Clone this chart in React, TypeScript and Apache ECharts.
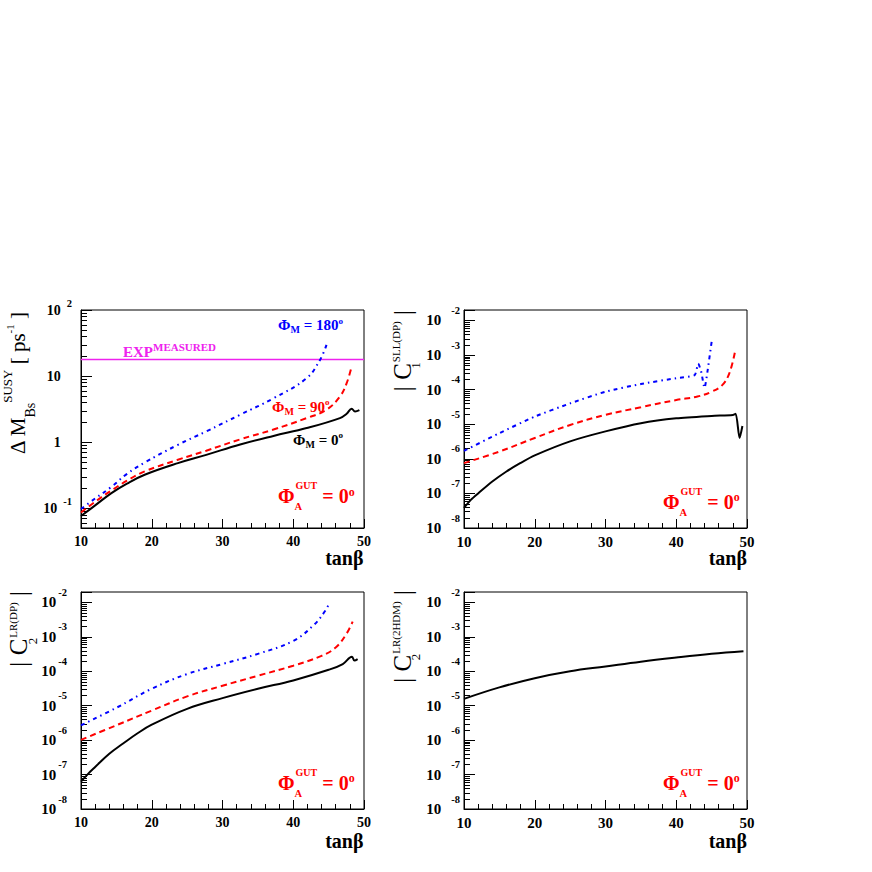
import React, { useEffect, useRef } from 'react';
import * as echarts from 'echarts';

const FONT = '"Liberation Serif", "Times New Roman", serif';
const RED = '#ff0000';
const BLUE = '#0000ff';
const BLACK = '#000000';
const MAGENTA = '#ee22ee';

// ---------- x axis ----------
const tanBetaMin = 10;
const tanBetaMax = 50;
const tanBetaStep = 10;

// ---------- panel 1 : Delta M_Bs^SUSY [ps^-1] ----------
const dmTanB_M0 = [10, 12, 14.3, 16.5, 19, 23.7, 27.7, 32.5, 37.2, 41.9, 46.6, 47.55, 48.26, 48.73, 49.35];
const dmVal_M0 = [0.076, 0.11, 0.169, 0.235, 0.32, 0.48, 0.64, 0.92, 1.24, 1.63, 2.31, 2.69, 3.2, 2.91, 3.05];
const dmTanB_M90 = [10, 12, 14.3, 16.5, 19, 23.7, 27.7, 32.5, 37.2, 41.9, 44.7, 46.6, 47.55, 48.26];
const dmVal_M90 = [0.086, 0.125, 0.185, 0.26, 0.36, 0.54, 0.74, 1.1, 1.55, 2.31, 3.09, 4.9, 7.8, 14];
const dmTanB_M180 = [10, 12, 14.3, 16.5, 19, 23.7, 27.7, 32.5, 37.2, 41.9, 43.8, 44.7];
const dmVal_M180 = [0.097, 0.14, 0.21, 0.33, 0.49, 0.91, 1.45, 2.6, 4.6, 9.3, 17.7, 29.7];
const expTanB = [10, 50];
const expVal = [17.77, 17.77];

// ---------- panel 2 : |C1^SLL(DP)| ----------
const c1TanB_M0 = [10, 11, 12, 14, 16, 18, 20, 25, 30, 35, 40, 45, 48, 48.4, 48.95, 49.35];
const c1Val_M0 = [3.8e-8, 6.6e-8, 1.0e-7, 2.2e-7, 4.3e-7, 7.6e-7, 1.26e-6, 3.2e-6, 6.2e-6, 1.07e-5, 1.48e-5, 1.74e-5, 1.86e-5, 2.0e-5, 4.0e-6, 8.9e-6];
const c1TanB_M90 = [10, 15, 20, 25, 30, 35, 40, 43, 45, 46.5, 47.5, 48.3];
const c1Val_M90 = [7.5e-7, 1.62e-6, 4.0e-6, 9.5e-6, 1.86e-5, 3.1e-5, 5.0e-5, 6.3e-5, 8.7e-5, 1.35e-4, 2.95e-4, 1.23e-3];
const c1TanB_M180 = [10, 15, 20, 25, 30, 35, 40, 42.6, 43.1, 43.5, 44.0, 44.4, 45.0];
const c1Val_M180 = [1.7e-6, 5.5e-6, 1.66e-5, 4.0e-5, 8.7e-5, 1.45e-4, 2.14e-4, 2.63e-4, 5.6e-4, 3.5e-4, 1.12e-4, 3.2e-4, 2.4e-3];

// ---------- panel 3 : |C2^LR(DP)| ----------
const c2TanB_M0 = [10, 11, 12, 14, 16, 18, 20, 25, 30, 35, 40, 45, 47, 48.3, 48.65, 49.1];
const c2Val_M0 = [6.2e-8, 1.05e-7, 1.66e-7, 4.0e-7, 8.1e-7, 1.58e-6, 2.8e-6, 8.1e-6, 1.66e-5, 3.1e-5, 5.4e-5, 1.1e-4, 1.62e-4, 2.63e-4, 2.04e-4, 2.24e-4];
const c2TanB_M90 = [10, 15, 20, 25, 30, 35, 40, 44, 46, 47.5, 48.4];
const c2Val_M90 = [1.02e-6, 2.7e-6, 7.2e-6, 1.86e-5, 3.8e-5, 7.4e-5, 1.45e-4, 2.8e-4, 4.9e-4, 1.2e-3, 2.75e-3];
const c2TanB_M180 = [10, 15, 20, 25, 30, 35, 40, 43, 44.5, 45];
const c2Val_M180 = [2.7e-6, 8.7e-6, 3.1e-5, 8.3e-5, 1.62e-4, 3.2e-4, 7.6e-4, 2.3e-3, 5.6e-3, 8.7e-3];

// ---------- panel 4 : |C2^LR(2HDM)| ----------
const c2hTanB = [10, 15, 20, 25, 30, 35, 40, 45, 49.5];
const c2hVal = [1.58e-5, 3.4e-5, 6.3e-5, 1.0e-4, 1.38e-4, 1.9e-4, 2.5e-4, 3.2e-4, 3.8e-4];

// ---------- y ranges ----------
const dmRange = [0.05, 100];
const cRange = [1e-8, 0.02];

// ---------- layout ----------
const panels = [
  { left: 81, top: 310, width: 283, height: 218, range: dmRange, mode: 'dm', labelFont: 14, xFont: 14, expGap: 6, expH: 16, margin: 9 },
  { left: 464, top: 310, width: 283, height: 218, range: cRange, mode: 'c', labelFont: 15, xFont: 15, expGap: 10, expH: 10, margin: 4 },
  { left: 81, top: 592, width: 283, height: 217, range: cRange, mode: 'c', labelFont: 15, xFont: 14, expGap: 2, expH: 10, margin: 14 },
  { left: 464, top: 592, width: 283, height: 217, range: cRange, mode: 'c', labelFont: 15, xFont: 15, expGap: 10, expH: 10, margin: 4 },
];

function yFormatter(mode: string) {
  return (v: number) => {
    const l = Math.log10(v);
    const e = Math.round(l);
    if (Math.abs(l - e) > 1e-6) return '';
    if (mode === 'dm') {
      if (e === 1) return '{b|10}{g|2}';
      if (e === 0) return '{b|1}{g|2}';
    }
    return `{b|10}{s|${e}}`;
  };
}

function yRich(p: any) {
  const base = { fontFamily: FONT, fontWeight: 'bold', color: '#000' };
  return {
    b: { ...base, fontSize: p.labelFont, lineHeight: 30, verticalAlign: 'middle', padding: [0, p.expGap, 0, 0] },
    s: { ...base, fontSize: 10.5, height: p.expH, verticalAlign: 'top' },
    g: { ...base, fontSize: 10.5, height: p.expH, verticalAlign: 'top', color: 'rgba(0,0,0,0)' },
  };
}

function minorTicks(gi: number, range: number[]) {
  const vals: number[][] = [];
  const e0 = Math.floor(Math.log10(range[0]));
  const e1 = Math.ceil(Math.log10(range[1]));
  for (let e = e0; e <= e1; e++) {
    for (let k = 2; k <= 9; k++) {
      const v = k * Math.pow(10, e);
      if (v > range[0] * 1.0001 && v < range[1] * 0.9999) vals.push([tanBetaMin, v]);
    }
  }
  return {
    type: 'custom',
    xAxisIndex: gi,
    yAxisIndex: gi,
    silent: true,
    z: 3,
    data: vals,
    renderItem: (params: any, api: any) => {
      const pt = api.coord([api.value(0), api.value(1)]);
      const y = Math.round(pt[1]) + 0.5;
      return {
        type: 'line',
        shape: { x1: pt[0], y1: y, x2: pt[0] + 6, y2: y },
        style: { stroke: '#000', lineWidth: 1 },
      };
    },
  };
}

function curve(gi: number, xs: number[], ys: number[], color: string, type: any, width = 2, smooth: any = 0.4) {
  return {
    type: 'line',
    xAxisIndex: gi,
    yAxisIndex: gi,
    data: xs.map((x, i) => [x, ys[i]]),
    showSymbol: false,
    symbol: 'none',
    smooth,
    silent: true,
    z: 4,
    lineStyle: { color, width, type },
  };
}

const DASH = [6, 4];
const DASHDOT = [4, 4, 1.5, 4];

function richText(x: number, y: number, text: string, rich: any, align = 'left', rotation = 0) {
  return {
    type: 'text',
    x,
    y,
    rotation,
    silent: true,
    z: 20,
    style: { text, rich, align, verticalAlign: 'middle' },
  };
}

function tok(fontSize: number, fill: string, extra: any = {}, bold = true) {
  return { fontFamily: FONT, fontWeight: bold ? 'bold' : 'normal', fontSize, fill, color: fill, ...extra };
}

function phiM(x: number, y: number, value: string, color: string) {
  return richText(x, y, `{p|Φ}{sb|M}{p| = ${value}}{dg|o}`, {
    p: tok(15, color, { lineHeight: 24, verticalAlign: 'middle' }),
    sb: tok(10, color, { height: 15, verticalAlign: 'bottom' }),
    dg: tok(9, color, { height: 15, verticalAlign: 'top' }),
  });
}

function phiA(x: number, y: number) {
  return richText(x, y, '{p|Φ}{sb|A}{sp|GUT}{p| = 0}{dg|o}', {
    p: tok(20, RED, { lineHeight: 36, verticalAlign: 'middle' }),
    sb: tok(10.5, RED, { height: 15, verticalAlign: 'bottom', width: 1 }),
    sp: tok(10, RED, { height: 15, verticalAlign: 'top' }),
    dg: tok(12, RED, { height: 27, verticalAlign: 'top' }),
  });
}

function cTitle(x: number, y: number, sub: string, sup: string) {
  return richText(x, y, `{m|| C}{sb|${sub}}{sp|${sup}}{m| |}`, {
    m: tok(25, '#000', { lineHeight: 36, verticalAlign: 'middle' }, false),
    sb: tok(13, '#000', { height: 9, verticalAlign: 'bottom', width: 1 }, false),
    sp: tok(11, '#000', { height: 24, verticalAlign: 'top' }, false),
  }, 'right', Math.PI / 2);
}

function tanBetaLabel(xRight: number, y: number) {
  return {
    type: 'text',
    x: xRight,
    y,
    silent: true,
    z: 20,
    style: { text: 'tanβ', fontFamily: FONT, fontWeight: 'bold', fontSize: 20, fill: '#000', align: 'right', verticalAlign: 'middle' },
  };
}

export default function App() {
  const ref = useRef<HTMLDivElement>(null);
  useEffect(() => {
    if (!ref.current) return;
    const chart = echarts.init(ref.current, null, { renderer: 'svg' });

    const grid = panels.map((p) => ({
      left: p.left, top: p.top, width: p.width, height: p.height,
      show: true, borderColor: '#000', borderWidth: 1, backgroundColor: 'transparent',
      containLabel: false, outerBoundsMode: 'none',
    }));

    const xAxis = panels.map((p, i) => ({
      type: 'value', gridIndex: i, min: tanBetaMin, max: tanBetaMax, interval: tanBetaStep,
      axisLine: { show: true, onZero: false, lineStyle: { color: '#000', width: 1 } },
      axisTick: { show: true, inside: true, length: 9, lineStyle: { color: '#000', width: 1 } },
      minorTick: { show: true, splitNumber: 5, length: 5, lineStyle: { color: '#000', width: 1 } },
      splitLine: { show: false },
      minorSplitLine: { show: false },
      axisLabel: { margin: 6, fontFamily: FONT, fontWeight: 'bold', fontSize: p.xFont, color: '#000' },
    }));

    const yAxis = panels.map((p, i) => ({
      type: 'log', logBase: 10, gridIndex: i, min: p.range[0], max: p.range[1],
      axisLine: { show: true, lineStyle: { color: '#000', width: 1 } },
      axisTick: { show: true, inside: true, length: 11, lineStyle: { color: '#000', width: 1 } },
      splitLine: { show: false },
      axisLabel: { margin: p.margin, formatter: yFormatter(p.mode), rich: yRich(p), showMinLabel: true, showMaxLabel: true },
    }));

    const series: any[] = [
      ...panels.map((p, i) => minorTicks(i, p.range)),
      curve(0, expTanB, expVal, MAGENTA, 'solid', 1.5, false),
      curve(0, dmTanB_M0, dmVal_M0, BLACK, 'solid'),
      curve(0, dmTanB_M90, dmVal_M90, RED, DASH),
      curve(0, dmTanB_M180, dmVal_M180, BLUE, DASHDOT),
      curve(1, c1TanB_M0, c1Val_M0, BLACK, 'solid', 2, 0.25),
      curve(1, c1TanB_M90, c1Val_M90, RED, DASH),
      curve(1, c1TanB_M180, c1Val_M180, BLUE, DASHDOT, 2, 0.2),
      curve(2, c2TanB_M0, c2Val_M0, BLACK, 'solid'),
      curve(2, c2TanB_M90, c2Val_M90, RED, DASH),
      curve(2, c2TanB_M180, c2Val_M180, BLUE, DASHDOT),
      curve(3, c2hTanB, c2hVal, BLACK, 'solid'),
    ];

    const graphic: any[] = [
      // y titles
      richText(17.5, 312, '{m|Δ M}{sb|Bs}{sp|SUSY}{m| [ ps}{sp2|-1}{m| ]}', {
        m: tok(21, '#000', { lineHeight: 40, verticalAlign: 'middle' }, false),
        sb: tok(14, '#000', { height: 14, verticalAlign: 'bottom' }, false),
        sp: tok(13, '#000', { height: 19, verticalAlign: 'top' }, false),
        sp2: tok(11, '#000', { height: 24, verticalAlign: 'top' }, false),
      }, 'right', Math.PI / 2),
      cTitle(402, 310, '1', 'SLL(DP)'),
      cTitle(18.5, 591, '2', 'LR(DP)'),
      cTitle(402, 590, '2', 'LR(2HDM)'),
      // x titles
      tanBetaLabel(363.5, 558),
      tanBetaLabel(747, 558),
      tanBetaLabel(363.5, 840.5),
      tanBetaLabel(747, 840.5),
      // annotations
      richText(123, 351.5, '{e|EXP}{s|MEASURED}', {
        e: tok(15, MAGENTA, { lineHeight: 24, verticalAlign: 'middle' }),
        s: tok(11, MAGENTA, { height: 14, verticalAlign: 'top' }),
      }),
      phiM(278, 325, '180', BLUE),
      phiM(272, 406.5, '90', RED),
      phiM(293, 439.5, '0', BLACK),
      phiA(278, 496),
      phiA(663, 501.5),
      phiA(278, 782.5),
      phiA(663, 782.5),
    ];

    chart.setOption({
      animation: false,
      backgroundColor: '#ffffff',
      grid,
      xAxis,
      yAxis,
      series,
      graphic,
    } as any);

    return () => chart.dispose();
  }, []);

  return <div ref={ref} style={{ position: 'fixed', left: 0, top: 0, width: 872, height: 872, background: '#fff' }} />;
}
